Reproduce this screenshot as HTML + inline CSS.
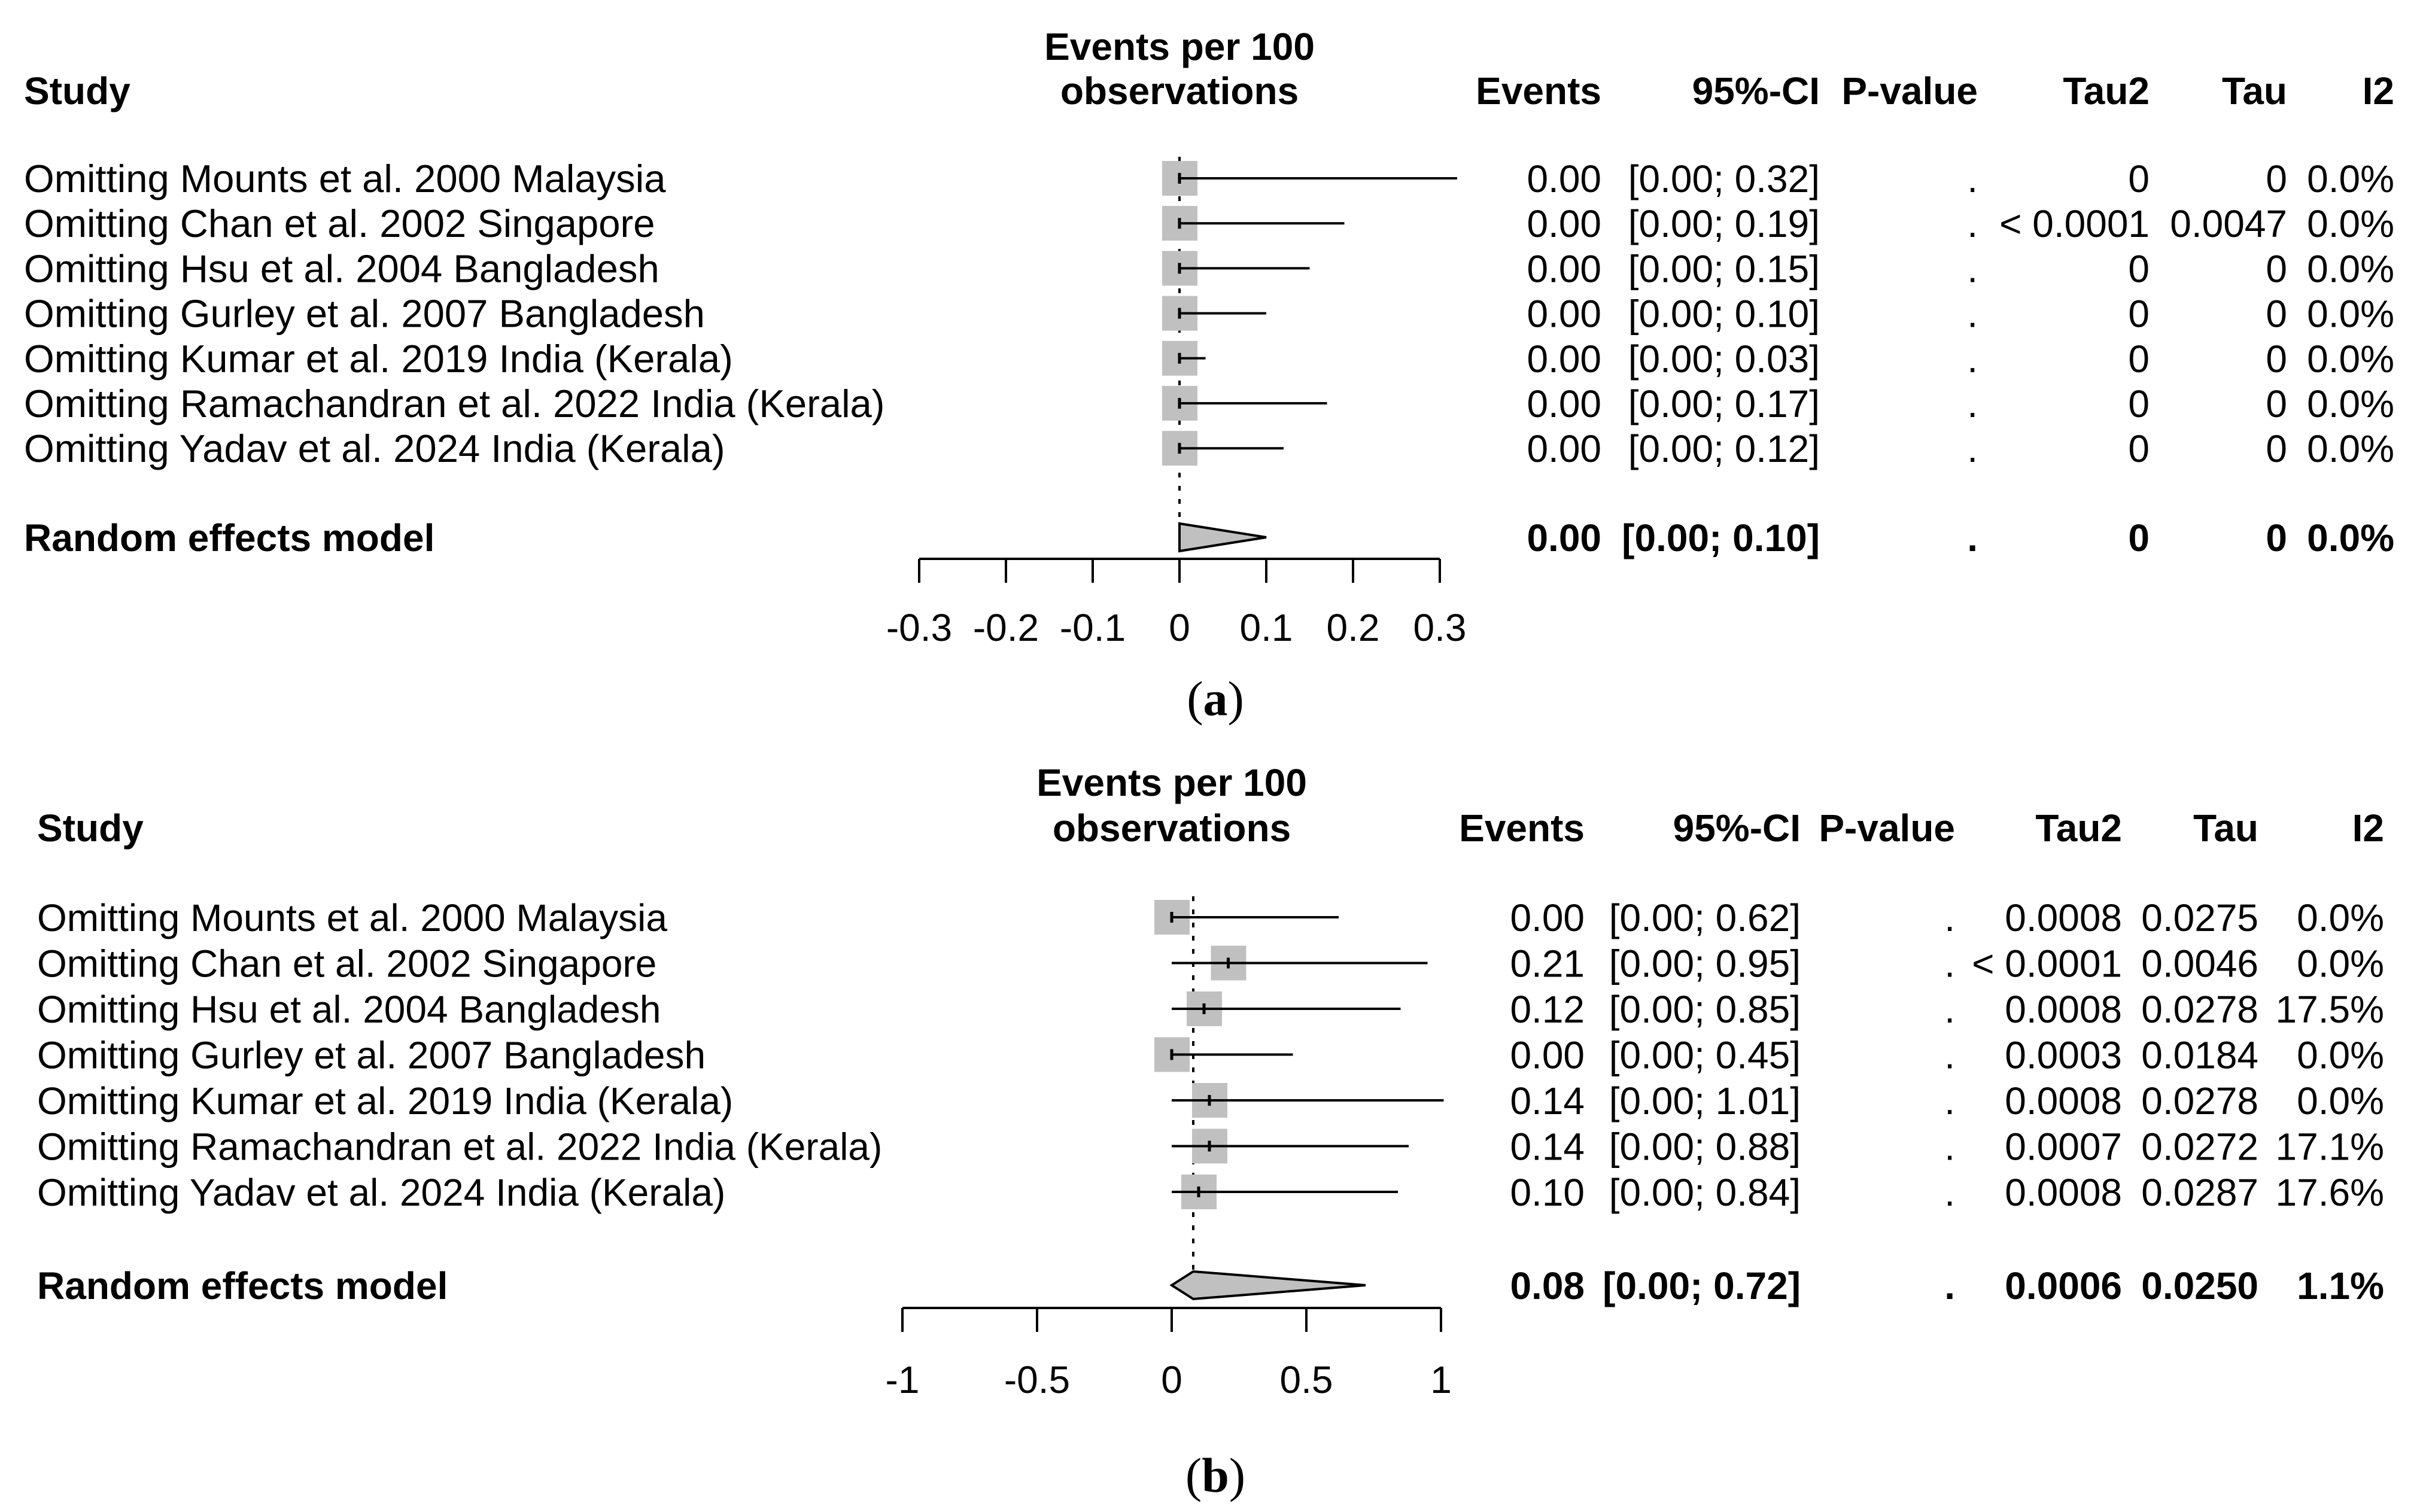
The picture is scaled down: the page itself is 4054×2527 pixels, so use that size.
<!DOCTYPE html>
<html><head><meta charset="utf-8"><style>
html,body{margin:0;padding:0;background:#fff;}
svg{display:block;}
text{font-family:"Liberation Sans",Arial,sans-serif;fill:#000;}
.b{font-weight:bold;}
.cap{font-family:"Liberation Serif",serif;}
</style></head><body>
<svg id="chart" xmlns="http://www.w3.org/2000/svg" width="4054" height="2527" viewBox="0 0 4054 2527">
<rect width="4054" height="2527" fill="#fff"/>
</svg>
<script>
const studies = ["Omitting Mounts et al. 2000 Malaysia","Omitting Chan et al. 2002 Singapore","Omitting Hsu et al. 2004 Bangladesh","Omitting Gurley et al. 2007 Bangladesh","Omitting Kumar et al. 2019 India (Kerala)","Omitting Ramachandran et al. 2022 India (Kerala)","Omitting Yadav et al. 2024 India (Kerala)"];
const headers = ["Events","95%-CI","P-value","Tau2","Tau","I2"];

const aEst = [0,0,0,0,0,0,0];
const aLow = [0,0,0,0,0,0,0];
const aHigh = [0.32,0.19,0.15,0.10,0.03,0.17,0.12];
const aPooled = [0.00,0.00,0.10];
const aTicks = [-0.3,-0.2,-0.1,0,0.1,0.2,0.3];
const aTickLabels = ["-0.3","-0.2","-0.1","0","0.1","0.2","0.3"];
const aEventsTxt = ["0.00","0.00","0.00","0.00","0.00","0.00","0.00"];
const aCITxt = ["[0.00; 0.32]","[0.00; 0.19]","[0.00; 0.15]","[0.00; 0.10]","[0.00; 0.03]","[0.00; 0.17]","[0.00; 0.12]"];
const aTau2Txt = ["0","< 0.0001","0","0","0","0","0"];
const aTauTxt = ["0","0.0047","0","0","0","0","0"];
const aI2Txt = ["0.0%","0.0%","0.0%","0.0%","0.0%","0.0%","0.0%"];
const aPooledTxt = ["0.00","[0.00; 0.10]",".","0","0","0.0%"];

const bEst = [0,0.21,0.12,0,0.14,0.14,0.10];
const bLow = [0,0,0,0,0,0,0];
const bHigh = [0.62,0.95,0.85,0.45,1.01,0.88,0.84];
const bPooled = [0.08,0.00,0.72];
const bTicks = [-1,-0.5,0,0.5,1];
const bTickLabels = ["-1","-0.5","0","0.5","1"];
const bEventsTxt = ["0.00","0.21","0.12","0.00","0.14","0.14","0.10"];
const bCITxt = ["[0.00; 0.62]","[0.00; 0.95]","[0.00; 0.85]","[0.00; 0.45]","[0.00; 1.01]","[0.00; 0.88]","[0.00; 0.84]"];
const bTau2Txt = ["0.0008","< 0.0001","0.0008","0.0003","0.0008","0.0007","0.0008"];
const bTauTxt = ["0.0275","0.0046","0.0278","0.0184","0.0278","0.0272","0.0287"];
const bI2Txt = ["0.0%","0.0%","17.5%","0.0%","0.0%","17.1%","17.6%"];
const bPooledTxt = ["0.08","[0.00; 0.72]",".","0.0006","0.0250","1.1%"];

const NS="http://www.w3.org/2000/svg";
const svg=document.getElementById('chart');
function mk(tag,attrs,parent){const e=document.createElementNS(NS,tag);for(const k in attrs)e.setAttribute(k,attrs[k]);(parent||svg).appendChild(e);return e;}
function txt(s,x,y,anchor,cls,size,parent){const t=mk('text',{x:x,y:y,'text-anchor':anchor,'font-size':size||64},parent);if(cls)t.setAttribute('class',cls);t.textContent=s;return t;}

function panel(cfg){
  const g=mk('g',{});
  
  
  const sx=v=>cfg.x0+v*cfg.scale;
  const off=23;
  let t=txt("Study",cfg.left,cfg.hy+off,'start','b',64,g);
  
  
  t=txt("Events per 100",cfg.x0,cfg.h1y+off,'middle','b',64,g);
  
  
  t=txt("observations",cfg.x0,cfg.hy+off,'middle','b',64,g);
  
  
  headers.forEach((h,i)=>{const e=txt(h,cfg.cols[i],cfg.hy+off,'end','b',64,g);
    
    });
  const ref=mk('line',{x1:sx(cfg.pooled[0]),x2:sx(cfg.pooled[0]),y1:cfg.dashTop,y2:cfg.dashBot,stroke:'#000','stroke-width':4,'stroke-dasharray':'8 14'},g);
  
  
  studies.forEach((s,i)=>{
    const y=cfg.rowY+i*cfg.rowH;
    const lab=txt(s,cfg.left,y+off,'start','',cfg.labSize,g);
    
    
    const bx=mk('rect',{x:sx(cfg.est[i])-29,y:y-29,width:59,height:58,fill:'#c0c0c0'},g);
    
    
    const ci=mk('line',{x1:sx(cfg.low[i]),x2:sx(cfg.high[i]),y1:y,y2:y,stroke:'#000','stroke-width':4},g);
    
    
    const tk=mk('line',{x1:sx(cfg.est[i]),x2:sx(cfg.est[i]),y1:y-9,y2:y+9,stroke:'#000','stroke-width':5},g);
    
    
    const vals=[cfg.ev[i],cfg.ci[i],".",cfg.tau2[i],cfg.tau[i],cfg.i2[i]];
    vals.forEach((v,j)=>{const e=txt(v,cfg.cols[j],y+off,'end','',64,g);
      
      });
  });
  const py=cfg.poolY;
  const pl=txt("Random effects model",cfg.left,py+off,'start','b',64,g);
  
  
  const p=cfg.pooled;
  const pts=[[sx(p[1]),py],[sx(p[0]),py-23],[sx(p[2]),py],[sx(p[0]),py+23]].map(a=>a.join(',')).join(' ');
  const dm=mk('polygon',{points:pts,fill:'#c0c0c0',stroke:'#000','stroke-width':4,'stroke-linejoin':'miter'},g);
  
  
  cfg.pooledTxt.forEach((v,j)=>{const e=txt(v,cfg.cols[j],py+off,'end','b',64,g);
    
    });
  const ax=mk('line',{x1:sx(cfg.ticks[0]),x2:sx(cfg.ticks[cfg.ticks.length-1]),y1:cfg.axY,y2:cfg.axY,stroke:'#000','stroke-width':4},g);
  
  
  cfg.ticks.forEach((v,i)=>{
    const tl=mk('line',{x1:sx(v),x2:sx(v),y1:cfg.axY,y2:cfg.axY+40,stroke:'#000','stroke-width':4},g);
    
    
    const e=txt(cfg.tickLabels[i],sx(v),cfg.tlY+23,'middle','',64,g);
    
    
  });
  const c=mk('text',{x:2031,y:cfg.capY+28,'text-anchor':'middle','font-size':82,'class':'cap'},g);
  
  
  c.innerHTML='(<tspan font-weight="bold">'+cfg.letter+'</tspan>)';
}

panel({name:'panel-a',letter:'a',left:40,labSize:65.2,x0:1971,scale:1450,h1y:77,hy:151,rowY:298,rowH:75.2,poolY:898,
  dashTop:262,dashBot:872,axY:934,tlY:1048,capY:1167,
  cols:[2676,3041,3305,3592,3822,4001],
  est:aEst,low:aLow,high:aHigh,pooled:aPooled,ticks:aTicks,tickLabels:aTickLabels,
  ev:aEventsTxt,ci:aCITxt,tau2:aTau2Txt,tau:aTauTxt,i2:aI2Txt,pooledTxt:aPooledTxt});
panel({name:'panel-b',letter:'b',left:62,labSize:64,x0:1958,scale:450,h1y:1307,hy:1383,rowY:1533,rowH:76.5,poolY:2148,
  dashTop:1498,dashBot:2124,axY:2186,tlY:2305,capY:2465,
  cols:[2648,3009,3267,3546,3774,3984],
  est:bEst,low:bLow,high:bHigh,pooled:bPooled,ticks:bTicks,tickLabels:bTickLabels,
  ev:bEventsTxt,ci:bCITxt,tau2:bTau2Txt,tau:bTauTxt,i2:bI2Txt,pooledTxt:bPooledTxt});
</script>
</body></html>
